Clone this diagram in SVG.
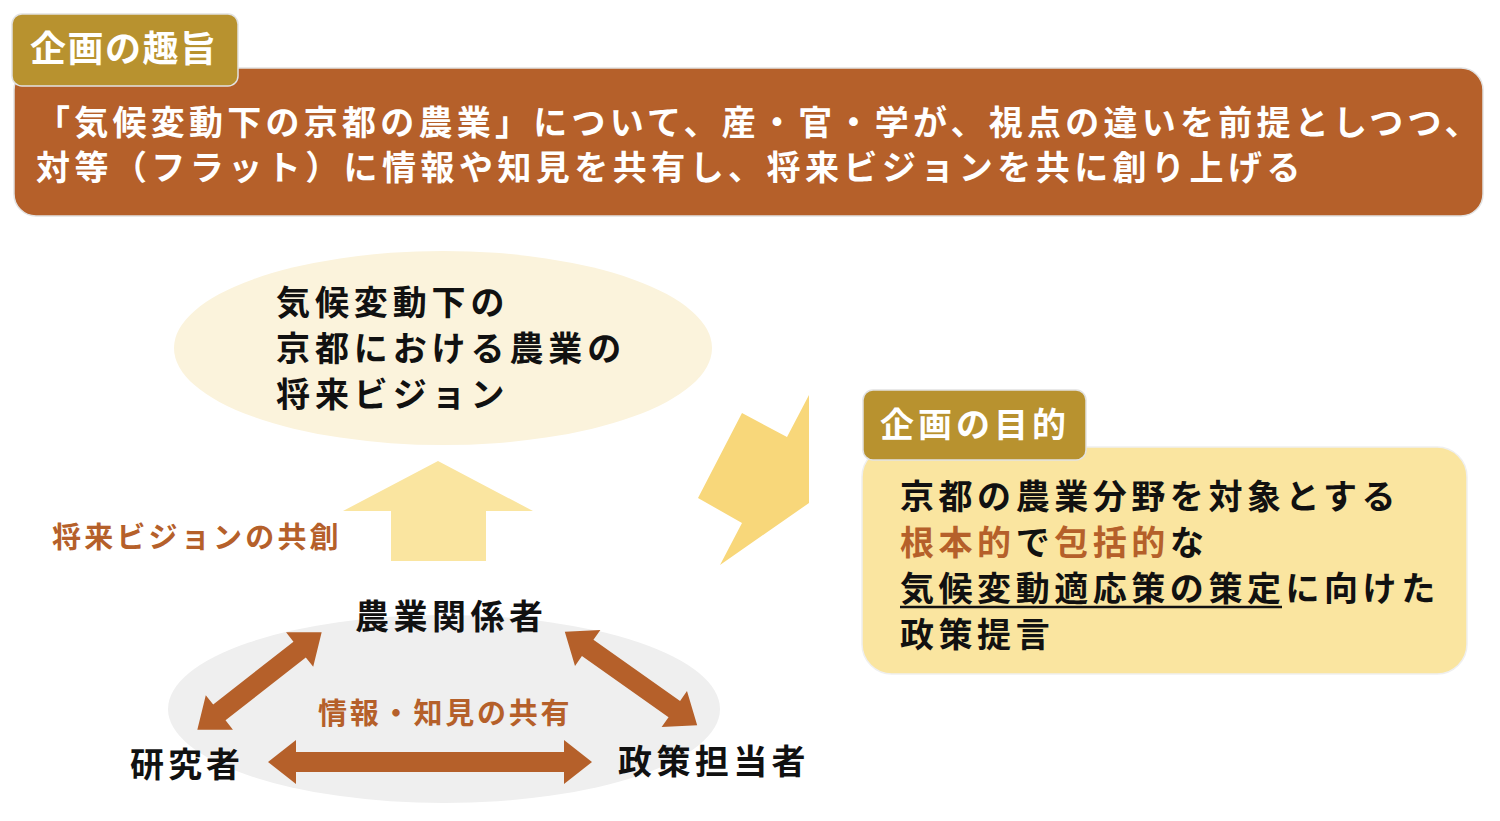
<svg xmlns="http://www.w3.org/2000/svg" width="1500" height="821" viewBox="0 0 1500 821">
<defs>
<style>
text{font-family:"Noto Sans CJK JP","Noto Sans CJK SC",sans-serif;font-weight:bold;}
.w{fill:#FFFFFF;}
.k{fill:#111111;}
.o{fill:#B5602A;}
.tab{fill:#B8922F;stroke:#E2E2E2;stroke-width:1.5;}
.main{fill:#B5602A;stroke:#E2E2E2;stroke-width:1.5;}
.purpose{fill:#FAE5A0;stroke:#EFEFEF;stroke-width:1.5;}
.arrow{fill:#B5602A;}
</style>
</defs>
<rect width="1500" height="821" fill="#FFFFFF"/>

<g id="main-box">
<rect class="main" x="14" y="68" width="1469" height="148" rx="22"/>
<text class="w" x="36" y="135" font-size="34" letter-spacing="4.25">「気候変動下の京都の農業」について、産・官・学が、視点の違いを前提としつつ、</text>
<text class="w" x="36" y="180" font-size="34" letter-spacing="4.45">対等（フラット）に情報や知見を共有し、将来ビジョンを共に創り上げる</text>
</g>

<g id="tab-shushi">
<rect class="tab" x="12" y="14" width="226" height="72" rx="10"/>
<text class="w" x="30" y="62" font-size="36" letter-spacing="1.5">企画の趣旨</text>
</g>

<g id="vision">
<ellipse cx="443" cy="348" rx="269" ry="97" fill="#FBF3DC"/>
<text class="k" x="276" y="315" font-size="34" letter-spacing="4.9">気候変動下の</text>
<text class="k" x="276" y="361" font-size="34" letter-spacing="4.9">京都における農業の</text>
<text class="k" x="276" y="407" font-size="34" letter-spacing="4.9">将来ビジョン</text>
</g>

<g id="up-arrow">
<polygon points="438,461 533,511 486,511 486,561 391,561 391,511 343,511" fill="#FAE5A0"/>
</g>

<g id="label-kyoso">
<text class="o" x="52" y="548" font-size="29" letter-spacing="3.2">将来ビジョンの共創</text>
</g>

<g id="stakeholders">
<ellipse cx="444" cy="709" rx="276" ry="94" fill="#EFEFEF"/>
</g>

<g id="connectors">
<polygon class="arrow" points="268,762 296,740 296,752 564,752 564,740 592,762 564,784 564,772 296,772 296,784"/>
<g transform="translate(259.5,681) rotate(-38.1)">
<polygon class="arrow" points="-79,0 -51,-22 -51,-10 51,-10 51,-22 79,0 51,22 51,10 -51,10 -51,22"/>
</g>
<g transform="translate(631,678.5) rotate(35.2)">
<polygon class="arrow" points="-81,0 -53,-22 -53,-10 53,-10 53,-22 81,0 53,22 53,10 -53,10 -53,22"/>
</g>
</g>

<g id="node-nogyo">
<text class="k" x="355" y="629" font-size="34" letter-spacing="4.5">農業関係者</text>
</g>
<g id="node-kenkyu">
<text class="k" x="130" y="777" font-size="34" letter-spacing="4">研究者</text>
</g>
<g id="node-seisaku">
<text class="k" x="618" y="774" font-size="34" letter-spacing="4.4">政策担当者</text>
</g>
<g id="label-kyoyu">
<text class="o" x="318" y="724" font-size="29" letter-spacing="2.8">情報・知見の共有</text>
</g>

<g id="bolt">
<polygon points="809,395 809,503 720,565 742,523 698,498 742,413 787,437" fill="#F8D77A"/>
</g>

<g id="purpose">
<rect class="purpose" x="862" y="447" width="605" height="227" rx="30"/>
<text class="k" x="900" y="509" font-size="34" letter-spacing="4.55">京都の農業分野を対象とする</text>
<text class="k" x="900" y="555" font-size="34" letter-spacing="4.55"><tspan class="o">根本的</tspan>で<tspan class="o">包括的</tspan>な</text>
<text class="k" x="900" y="601" font-size="34" letter-spacing="4.55">気候変動適応策の策定に向けた</text>
<line x1="900" y1="607" x2="1282" y2="607" stroke="#111111" stroke-width="2.5"/>
<text class="k" x="900" y="647" font-size="34" letter-spacing="4.55">政策提言</text>
</g>

<g id="tab-mokuteki">
<rect class="tab" x="863" y="390" width="223" height="70" rx="10"/>
<text class="w" x="880" y="437" font-size="34" letter-spacing="4">企画の目的</text>
</g>
</svg>
